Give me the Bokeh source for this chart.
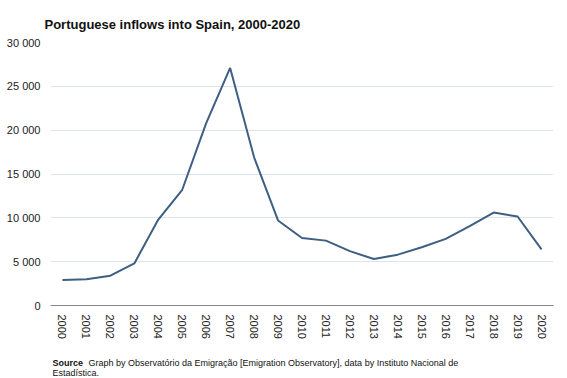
from bokeh.plotting import figure
from bokeh.layouts import column
from bokeh.models import Label, CustomJSTickFormatter, FactorRange, Range1d
from bokeh.embed import file_html
from bokeh.resources import INLINE
import math

years = [str(y) for y in range(2000, 2021)]
inflows = [2900, 3000, 3400, 4800, 9800, 13200, 20800, 27100, 16900, 9700,
           7700, 7400, 6200, 5300, 5800, 6650, 7600, 9050, 10600, 10150, 6400]
y_ticks = [0, 5000, 10000, 15000, 20000, 25000, 30000]

title_text = "Portuguese inflows into Spain, 2000-2020"
source_bold = "Source"
source_line1 = "Graph by Observatório da Emigração [Emigration Observatory], data by Instituto Nacional de"
source_line2 = "Estadística."

W = 567
H_MAIN, H_SRC = 345, 33
BL, BR = 50, 14
p = figure(width=W, height=H_MAIN, x_range=FactorRange(*years), y_range=Range1d(0, 30000),
           output_backend="svg", toolbar_location=None, title=title_text,
           min_border_left=BL, min_border_right=BR, min_border_top=42, min_border_bottom=40)
p.outline_line_color = None
p.background_fill_color = "white"

p.title.align = "left"
p.title.offset = -6
p.title.standoff = 22
p.title.text_line_height = 1.0
p.title.text_font = "Liberation Sans"
p.title.text_font_style = "bold"
p.title.text_font_size = "13px"
p.title.text_color = "#111111"

p.line(years, inflows, line_color="#3e5f84", line_width=2)

p.yaxis.ticker = y_ticks
p.yaxis.formatter = CustomJSTickFormatter(code="return tick.toString().replace(/\\B(?=(\\d{3})+(?!\\d))/g, ' ');")
p.yaxis.axis_line_color = None
p.yaxis.major_tick_line_color = None
p.yaxis.minor_tick_line_color = None
p.yaxis.major_label_text_font = "Liberation Sans"
p.yaxis.major_label_text_font_size = "11px"
p.yaxis.major_label_text_color = "#222222"
p.yaxis.major_label_standoff = 4

p.xaxis.axis_line_color = "#888888"
p.xaxis.major_tick_line_color = None
p.xaxis.minor_tick_line_color = None
p.xaxis.major_label_orientation = -math.pi / 2
p.xaxis.major_label_text_font = "Liberation Sans"
p.xaxis.major_label_text_font_size = "11px"
p.xaxis.major_label_text_color = "#222222"
p.xaxis.major_label_standoff = 3

p.xgrid.grid_line_color = None
p.ygrid.grid_line_color = "#dfe4ea"
p.ygrid.grid_line_width = 1

# source note in a small strip below; its frame lines up with the main frame,
# so the x range is given in page pixels of that frame
src = figure(width=W, height=H_SRC, x_range=Range1d(BL, W - BR), y_range=Range1d(0, H_SRC),
             output_backend="svg", toolbar_location=None,
             x_axis_type=None, y_axis_type=None,
             min_border_left=BL, min_border_right=BR, min_border_top=0, min_border_bottom=0)
src.grid.visible = False
src.outline_line_color = None

src.add_layout(Label(x=52, y=16, text=source_bold,
                     text_font="Liberation Sans", text_font_style="bold", text_font_size="9px",
                     text_color="#111111", text_baseline="middle"))
src.add_layout(Label(x=88, y=16, text=source_line1,
                     text_font="Liberation Sans", text_font_size="9px",
                     text_color="#111111", text_baseline="middle"))
src.add_layout(Label(x=52, y=6, text=source_line2,
                     text_font="Liberation Sans", text_font_size="9px",
                     text_color="#111111", text_baseline="middle"))

layout = column(p, src, spacing=0)
open("out.html", "w").write(file_html(layout, INLINE))
